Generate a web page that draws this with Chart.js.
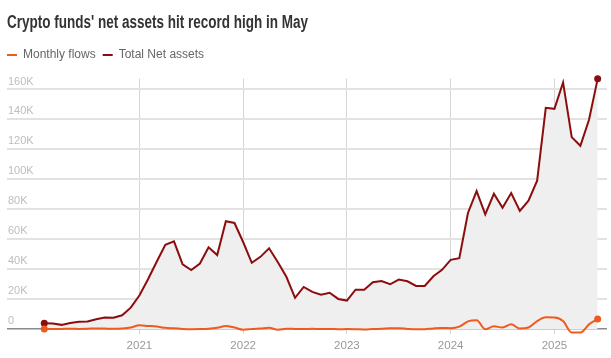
<!DOCTYPE html>
<html>
<head>
<meta charset="utf-8">
<script src="https://cdn.jsdelivr.net/npm/chart.js@4"></script>
<style>
  html, body { margin: 0; padding: 0; background: #fff; }
  #wrap { position: relative; width: 611px; height: 358px; overflow: hidden; }
  #title { position: absolute; left: 7px; top: 13px; margin: 0; white-space: nowrap;
    font-family: "Liberation Sans", Arial, sans-serif; font-weight: bold;
    font-size: 18px; line-height: 18px; color: #333; transform-origin: 0 0; }
  canvas { position: absolute; left: 0; top: 0; }
</style>
</head>
<body>
<div id="wrap">
  <canvas id="c" width="611" height="358"></canvas>
  <h1 id="title">Crypto funds' net assets hit record high in May</h1>
</div>
<script>
// Month-end observations, Jan 2020 – May 2025
const months = [
  "2020-01","2020-02","2020-03","2020-04","2020-05","2020-06","2020-07","2020-08","2020-09","2020-10","2020-11","2020-12",
  "2021-01","2021-02","2021-03","2021-04","2021-05","2021-06","2021-07","2021-08","2021-09","2021-10","2021-11","2021-12",
  "2022-01","2022-02","2022-03","2022-04","2022-05","2022-06","2022-07","2022-08","2022-09","2022-10","2022-11","2022-12",
  "2023-01","2023-02","2023-03","2023-04","2023-05","2023-06","2023-07","2023-08","2023-09","2023-10","2023-11","2023-12",
  "2024-01","2024-02","2024-03","2024-04","2024-05","2024-06","2024-07","2024-08","2024-09","2024-10","2024-11","2024-12",
  "2025-01","2025-02","2025-03","2025-04","2025-05"
];
// values in thousands (K)
const monthlyFlows = [
  0.2,0.1,0.2,0.3,0.2,0.3,0.5,0.4,0.3,0.5,1.1,2.6,
  2.2,1.8,0.9,0.6,0.2,0.0,0.1,0.3,0.9,2.2,1.1,-0.3,
  0.2,0.5,0.9,-0.3,0.3,0.2,0.1,0.3,0.1,0.2,0.0,0.1,
  0.0,-0.2,0.1,0.3,0.6,0.7,0.2,-0.1,0.0,0.5,0.8,0.7,
  1.7,5.2,5.9,0.0,1.9,1.2,3.3,0.4,1.1,5.4,7.9,7.8,
  5.4,-2.2,-2.2,3.2,6.8
];
const totalNetAssets = [
  4.0,3.8,2.9,4.2,4.9,5.1,6.7,7.8,7.6,9.3,14.4,22.5,
  33.3,45.0,56.4,58.6,43.3,39.5,43.8,54.7,49.5,72.1,70.9,58.2,
  44.3,48.3,54.0,44.9,35.0,20.9,28.2,24.9,23.0,24.3,20.2,19.1,
  26.4,26.4,31.3,32.2,30.0,33.1,32.0,28.9,28.9,35.3,39.6,46.3,
  47.4,77.6,92.2,76.7,90.4,81.1,90.9,78.9,85.8,99.1,147.8,147.1,
  164.7,128.2,122.4,139.8,167.1
];
const yTickValues = [0, 20, 40, 60, 80, 100, 120, 140, 160];
const yTickLabels = ["0", "20K", "40K", "60K", "80K", "100K", "120K", "140K", "160K"];
const xTickPositions = [11, 23, 35, 47, 59]; // year boundaries (Dec 31 ≈ Jan 1)
const xTickLabels = ["2021", "2022", "2023", "2024", "2025"];

const seriesNames = ["Monthly flows", "Total Net assets"];
const colors = { flows: "#ef5b1e", assets: "#8c0d0d", fill: "#efefef" };

const FONT = '"Liberation Sans", Arial, sans-serif';
const toPoints = arr => arr.map((v, i) => ({ x: i, y: v }));
const endDots = n => ctx => (ctx.dataIndex === 0 || ctx.dataIndex === n - 1) ? 3.5 : 0;

// fit title width to reference
(function () {
  const t = document.getElementById('title');
  const w = t.getBoundingClientRect().width;
  t.style.transform = 'scaleX(' + (301 / w) + ')';
})();

const legendSpacer = {
  id: 'legendSpacer',
  beforeInit(chart) {
    const orig = chart.legend.fit;
    chart.legend.fit = function () { orig.call(this); this.height += 7.5; };
  }
};

new Chart(document.getElementById('c'), {
  type: 'line',
  data: {
    datasets: [
      {
        label: seriesNames[0],
        data: toPoints(monthlyFlows),
        borderColor: colors.flows,
        backgroundColor: colors.flows,
        borderWidth: 2,
        fill: false,
        cubicInterpolationMode: 'monotone',
        pointRadius: endDots(monthlyFlows.length),
        pointBackgroundColor: colors.flows,
        pointBorderWidth: 0,
        clip: false
      },
      {
        label: seriesNames[1],
        data: toPoints(totalNetAssets),
        borderColor: colors.assets,
        backgroundColor: colors.fill,
        borderWidth: 2,
        fill: 'origin',
        tension: 0,
        pointRadius: endDots(totalNetAssets.length),
        pointBackgroundColor: colors.assets,
        pointBorderWidth: 0,
        clip: false
      }
    ]
  },
  options: {
    responsive: false,
    animation: false,
    devicePixelRatio: 1,
    layout: { padding: { top: 42, left: 0, right: 4, bottom: 0.5 } },
    plugins: {
      tooltip: { enabled: false },
      legend: {
        position: 'top',
        align: 'start',
        labels: {
          boxWidth: 10,
          boxHeight: 2,
          padding: 7,
          color: '#666',
          font: { family: FONT, size: 12 },
          generateLabels(chart) {
            return chart.data.datasets.map((ds, i) => ({
              text: ds.label,
              fillStyle: ds.borderColor,
              strokeStyle: 'rgba(0,0,0,0)',
              lineWidth: 0,
              fontColor: '#666',
              hidden: false,
              datasetIndex: i
            }));
          }
        }
      }
    },
    scales: {
      x: {
        type: 'linear',
        min: -4.31,
        max: 65.08,
        afterBuildTicks(scale) { scale.ticks = xTickPositions.map(v => ({ value: v })); },
        ticks: {
          color: '#999',
          font: { family: FONT, size: 11.5 },
          padding: 5,
          maxRotation: 0,
          autoSkip: false,
          callback: (v) => xTickLabels[xTickPositions.indexOf(v)]
        },
        grid: { color: '#d6d6d6', lineWidth: 1, drawTicks: false },
        border: { display: false }
      },
      y: {
        type: 'linear',
        min: -3,
        max: 167.33,
        afterBuildTicks(scale) { scale.ticks = yTickValues.map(v => ({ value: v })); },
        afterFit(scale) { scale.width = 7; },
        ticks: {
          mirror: true,
          padding: 1,
          labelOffset: -8,
          color: '#bdbdbd',
          font: { family: FONT, size: 11 },
          callback: (v) => yTickLabels[yTickValues.indexOf(v)]
        },
        grid: {
          drawTicks: false,
          color: (ctx) => ctx.tick && ctx.tick.value === 0 ? '#8a8a8a' : '#e2e2e2',
          lineWidth: (ctx) => ctx.tick && ctx.tick.value === 0 ? 1.5 : 2
        },
        border: { display: false }
      }
    }
  },
  plugins: [legendSpacer]
});
</script>
</body>
</html>
